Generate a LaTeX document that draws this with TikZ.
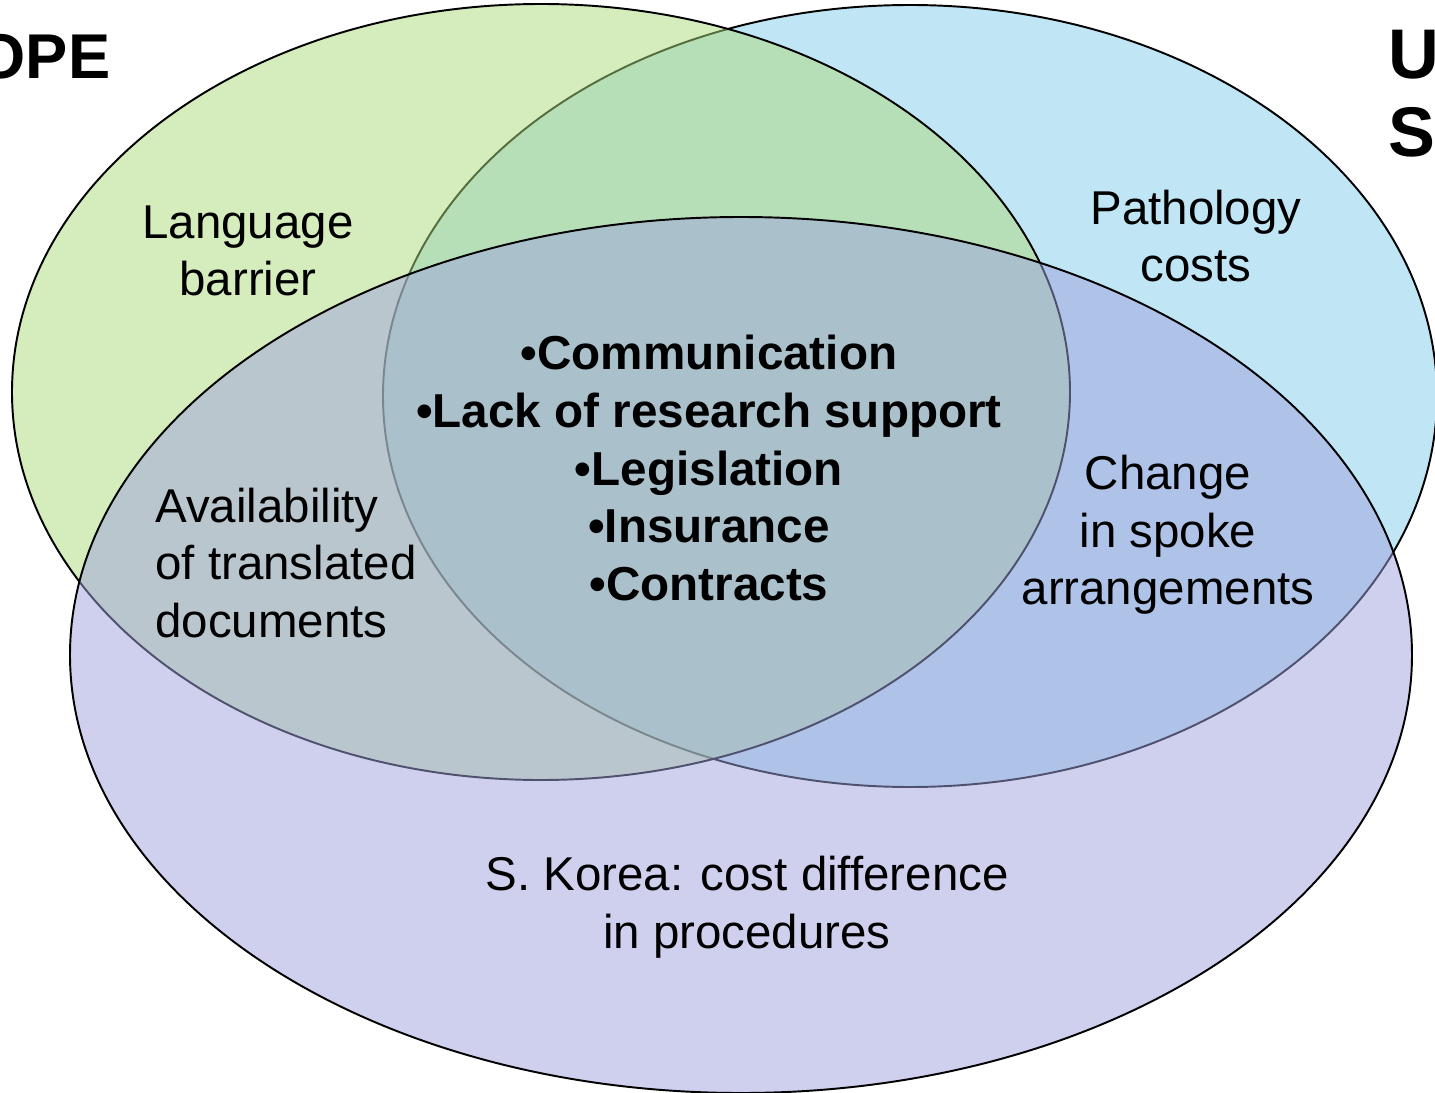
\documentclass[tikz,border=0pt]{standalone}
\usepackage{fontspec}
\setmainfont{Liberation Sans}
\usepackage{xcolor}
\usepackage{tikz}
\usetikzlibrary{positioning}
\definecolor{eurogreen}{RGB}{173,219,125}
\definecolor{usblue}{RGB}{130,205,236}
\definecolor{korpurple}{RGB}{160,162,222}
\tikzset{
	setfill/.style={draw=black, line width=0.55pt, fill opacity=0.5},
	lbl/.style={align=center, inner sep=0pt, font=\fontsize{13.5}{16.4}\selectfont},
	blbl/.style={align=center, inner sep=0pt, font=\fontsize{13.55}{16.4}\selectfont\bfseries},
	regiontitle/.style={inner sep=0pt, font=\fontsize{18}{22}\selectfont\bfseries}
}

\begin{document}
\begin{tikzpicture}[x=0.1mm, y=-0.1mm]
		\useasboundingbox (0,0) rectangle (1435,1093);
		%Sets
		\fill[white] (0,0) rectangle (1435,1093);
		\draw[setfill, fill=usblue] (910,396) ellipse [x radius=527, y radius=391];
		\draw[setfill, fill=eurogreen] (541,392) ellipse [x radius=529, y radius=388];
		\draw[setfill, fill=korpurple] (741,655) ellipse [x radius=671, y radius=438];
		
		%Titles
		\node[regiontitle, anchor=base east] at (111,78) (eu) {EUROPE};
		\node[regiontitle, anchor=north west, align=left, font=\fontsize{20}{22.2}\selectfont\bfseries] at (1388,29) (us) {UNITED\\STATES};
		
		%Labels
		\node[lbl] at (248,251) (lang) {Language\\barrier};
		\node[lbl] at (1196,236) (path) {Pathology\\costs};
		\node[lbl, align=left] at (286,563) (avail) {Availability\\of translated\\documents};
		\node[lbl] at (1168,535) (spoke) {Change\\in spoke\\arrangements};
		\node[lbl] at (747,907) (korea) {S. Korea: cost difference\\in procedures};
		\node[blbl] at (709,468) (common) {•Communication\\•Lack of research support\\•Legislation\\•Insurance\\•Contracts};
		
	\end{tikzpicture}
\end{document}
